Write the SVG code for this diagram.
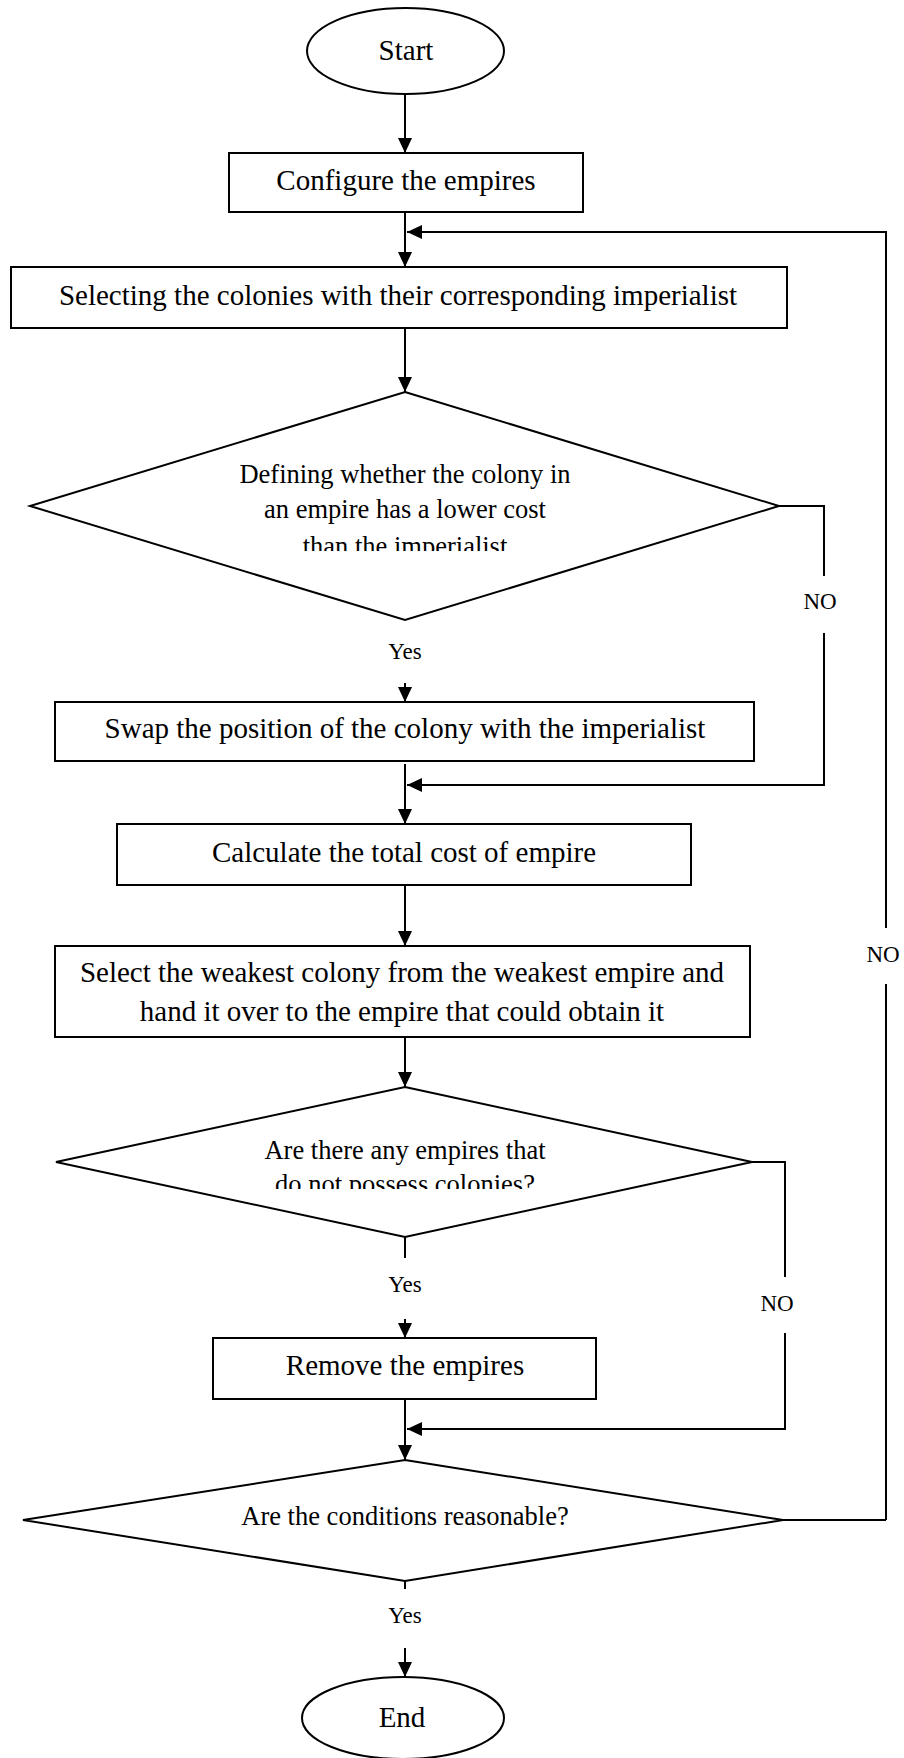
<svg xmlns="http://www.w3.org/2000/svg" width="904" height="1758" viewBox="0 0 904 1758">
  <style>
    .shape { fill: #fff; stroke: #000; stroke-width: 2; }
    .line { fill: none; stroke: #000; stroke-width: 2; }
    .t { font-family: "Liberation Serif", "Times New Roman", serif; fill: #000; text-anchor: middle; }
    .box { font-size: 29px; }
    .dia { font-size: 26.5px; }
    .lbl { font-size: 23px; }
  </style>
  <defs>
    <marker id="arrow" markerUnits="userSpaceOnUse" markerWidth="16" markerHeight="14" refX="15" refY="7" orient="auto">
      <path d="M0,0 L15,7 L0,14 Z" fill="#000"/>
    </marker>
    <clipPath id="clip-d1" clipPathUnits="userSpaceOnUse">
      <rect x="0" y="392" width="904" height="159"/>
    </clipPath>
    <clipPath id="clip-d2" clipPathUnits="userSpaceOnUse">
      <rect x="0" y="1087" width="904" height="102"/>
    </clipPath>
  </defs>

  <!-- connectors -->
  <g id="connectors">
    <line class="line" x1="405" y1="94" x2="405" y2="153" marker-end="url(#arrow)"/>
    <line class="line" x1="405" y1="212" x2="405" y2="267" marker-end="url(#arrow)"/>
    <polyline class="line" points="886,1520 886,232 407,232" marker-end="url(#arrow)"/>
    <line class="line" x1="405" y1="328" x2="405" y2="392" marker-end="url(#arrow)"/>
    <line class="line" x1="405" y1="683" x2="405" y2="702" marker-end="url(#arrow)"/>
    <polyline class="line" points="779,506 824,506 824,576"/>
    <polyline class="line" points="824,633 824,785 407,785" marker-end="url(#arrow)"/>
    <line class="line" x1="405" y1="764" x2="405" y2="824" marker-end="url(#arrow)"/>
    <line class="line" x1="405" y1="885" x2="405" y2="946" marker-end="url(#arrow)"/>
    <line class="line" x1="405" y1="1037" x2="405" y2="1087" marker-end="url(#arrow)"/>
    <line class="line" x1="405" y1="1237" x2="405" y2="1258"/>
    <line class="line" x1="405" y1="1319" x2="405" y2="1338" marker-end="url(#arrow)"/>
    <polyline class="line" points="752,1162 785,1162 785,1277"/>
    <polyline class="line" points="785,1333 785,1429 407,1429" marker-end="url(#arrow)"/>
    <line class="line" x1="405" y1="1399" x2="405" y2="1460" marker-end="url(#arrow)"/>
    <polyline class="line" points="783,1520 886,1520"/>
    <line class="line" x1="405" y1="1581" x2="405" y2="1589"/>
    <line class="line" x1="405" y1="1648" x2="405" y2="1677" marker-end="url(#arrow)"/>
    <!-- branch labels -->
    <rect x="860" y="928" width="52" height="56" fill="#fff"/>
    <text class="t lbl" x="883" y="962">NO</text>
    <text class="t lbl" x="820" y="609">NO</text>
    <text class="t lbl" x="777" y="1311">NO</text>
    <text class="t lbl" x="405" y="659">Yes</text>
    <text class="t lbl" x="405" y="1292">Yes</text>
    <text class="t lbl" x="405" y="1623">Yes</text>
  </g>

  <g id="start">
    <ellipse class="shape" cx="405.5" cy="51" rx="98.5" ry="43"/>
    <text class="t box" x="406" y="60">Start</text>
  </g>

  <g id="configure">
    <rect class="shape" x="229" y="153" width="354" height="59"/>
    <text class="t box" x="406" y="190">Configure the empires</text>
  </g>

  <g id="select-colonies">
    <rect class="shape" x="11" y="267" width="776" height="61"/>
    <text class="t box" x="398" y="305">Selecting the colonies with their corresponding imperialist</text>
  </g>

  <g id="decide-cost">
    <polygon class="shape" points="405,392 779,506 405,620 30,506"/>
    <g clip-path="url(#clip-d1)">
      <text class="t dia" x="405" y="483">Defining whether the colony in</text>
      <text class="t dia" x="405" y="518">an empire has a lower cost</text>
      <text class="t dia" x="405" y="555">than the imperialist</text>
    </g>
  </g>

  <g id="swap">
    <rect class="shape" x="55" y="702" width="699" height="59"/>
    <text class="t box" x="405" y="738">Swap the position of the colony with the imperialist</text>
  </g>

  <g id="total-cost">
    <rect class="shape" x="117" y="824" width="574" height="61"/>
    <text class="t box" x="404" y="862">Calculate the total cost of empire</text>
  </g>

  <g id="weakest">
    <rect class="shape" x="55" y="946" width="695" height="91"/>
    <text class="t box" x="402" y="982">Select the weakest colony from the weakest empire and</text>
    <text class="t box" x="402" y="1021">hand it over to the empire that could obtain it</text>
  </g>

  <g id="decide-empty">
    <polygon class="shape" points="405,1087 752,1162 405,1237 56,1162"/>
    <g clip-path="url(#clip-d2)">
      <text class="t dia" x="405" y="1159">Are there any empires that</text>
      <text class="t dia" x="405" y="1193">do not possess colonies?</text>
    </g>
  </g>

  <g id="remove">
    <rect class="shape" x="213" y="1338" width="383" height="61"/>
    <text class="t box" x="405" y="1375">Remove the empires</text>
  </g>

  <g id="decide-stop">
    <polygon class="shape" points="405,1460 783,1520 405,1581 23,1520"/>
    <text class="t dia" x="405" y="1525">Are the conditions reasonable?</text>
  </g>

  <g id="end">
    <ellipse class="shape" cx="403" cy="1718" rx="101" ry="41"/>
    <text class="t box" x="402" y="1727">End</text>
  </g>
</svg>
